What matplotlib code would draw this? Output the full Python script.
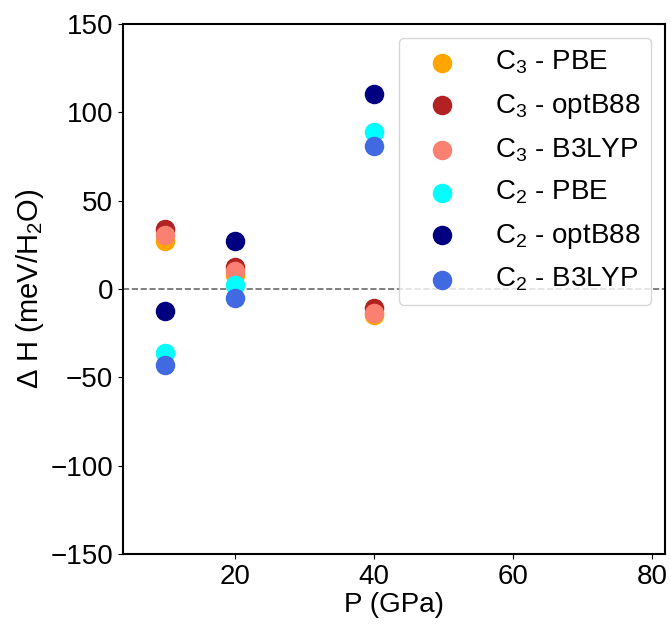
import matplotlib
matplotlib.use('Agg')
import matplotlib.pyplot as plt

plt.rcParams['font.family'] = ['Liberation Sans', 'DejaVu Sans']
plt.rcParams['mathtext.fontset'] = 'custom'
plt.rcParams['mathtext.rm'] = 'Liberation Sans'
plt.rcParams['mathtext.it'] = 'Liberation Sans'

# pressures (GPa) and enthalpy differences (meV/H2O)
pressures = [10, 20, 40]
c3_pbe = [27, 8, -14.5]
c3_optb88 = [34, 12.5, -11]
c3_b3lyp = [30.5, 10, -13.5]
c2_pbe = [-36.5, 2.5, 89]
c2_optb88 = [-12.5, 27, 110.5]
c2_b3lyp = [-43, -5, 81]

series = [
    (c3_pbe, 'orange', r'C$_3$ - PBE'),
    (c3_optb88, 'firebrick', r'C$_3$ - optB88'),
    (c3_b3lyp, 'salmon', r'C$_3$ - B3LYP'),
    (c2_pbe, 'cyan', r'C$_2$ - PBE'),
    (c2_optb88, 'navy', r'C$_2$ - optB88'),
    (c2_b3lyp, 'royalblue', r'C$_2$ - B3LYP'),
]

fig = plt.figure(figsize=(6.71, 6.24), dpi=100)
ax = fig.add_axes([123/671, 1 - 554/624, 542/671, 530/624])

for vals, col, lab in series:
    ax.scatter(pressures, vals, s=170, color=col, label=lab, zorder=3)

ax.axhline(0, color='dimgray', linestyle='--', linewidth=1.2, zorder=1)

ax.set_xlim(3.9, 81.9)
ax.set_ylim(-150, 150)
ax.set_xticks([20, 40, 60, 80])
ax.set_yticks([-150, -100, -50, 0, 50, 100, 150])
ax.tick_params(labelsize=20)
for sp in ax.spines.values():
    sp.set_linewidth(1.5)

ax.set_xlabel('P (GPa)', fontsize=20, labelpad=2)
ax.set_ylabel(r'$\Delta$ H (meV/H$_2$O)', fontsize=21, labelpad=3)

ax.legend(loc='upper right', fontsize=20, handlelength=2.3, handletextpad=0.75,
          labelspacing=0.55)

fig.savefig('out.png', dpi=100)
